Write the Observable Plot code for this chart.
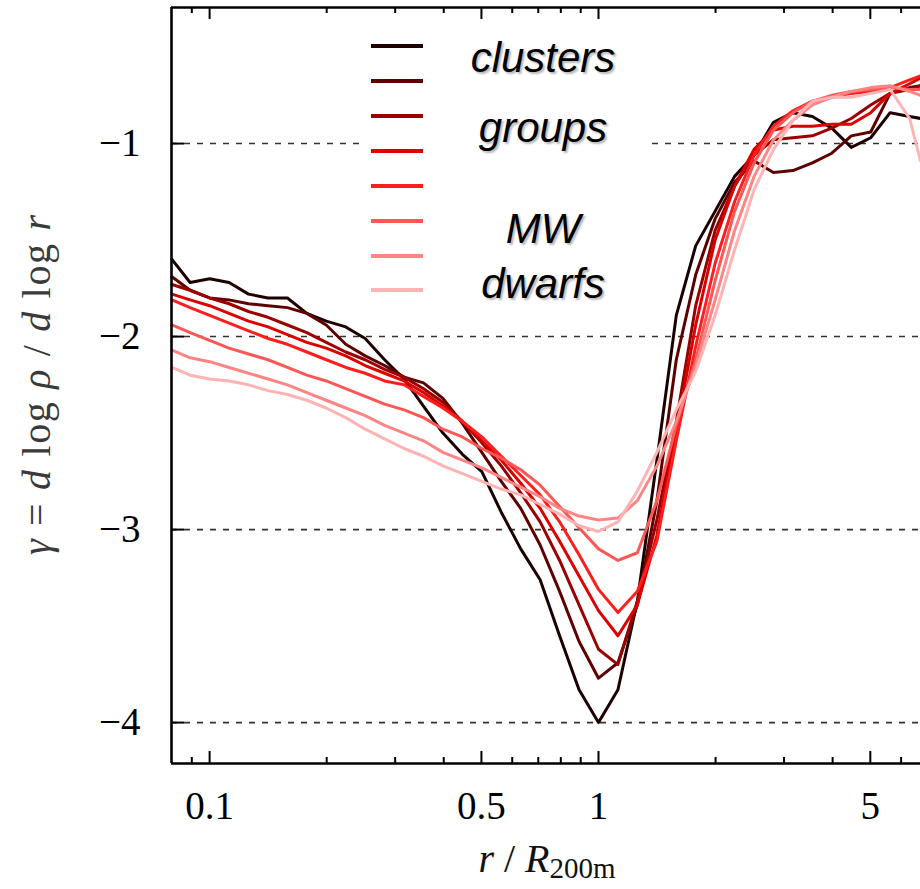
<!DOCTYPE html>
<html><head><meta charset="utf-8">
<script src="https://cdn.jsdelivr.net/npm/d3@7"></script>
<script src="https://cdn.jsdelivr.net/npm/@observablehq/plot@0.6"></script>
<style>
body{margin:0;background:#fff;}
#wrap{position:relative;width:920px;height:889px;overflow:hidden;background:#fff;}
.lgbox{position:absolute;left:364px;top:20px;width:284px;height:292px;background:#fff;}
.lgline{position:absolute;left:371px;width:52px;height:4px;}
.lgtext{position:absolute;left:543px;font-family:"Liberation Sans",Arial,sans-serif;font-style:italic;font-size:42px;line-height:42px;color:#000;text-shadow:2px 2px 2px rgba(0,0,0,0.28);transform:translateX(-50%);white-space:nowrap;}
</style></head><body><div id="wrap"></div>
<script>
// radius r / R200m
const r = [0.08, 0.0891, 0.1, 0.1122, 0.1259, 0.1413, 0.1585, 0.1778, 0.1995, 0.2239, 0.2512, 0.2818, 0.3162, 0.3548, 0.3981, 0.4467, 0.5012, 0.5623, 0.631, 0.7079, 0.7943, 0.8913, 1.0, 1.122, 1.259, 1.413, 1.585, 1.778, 1.995, 2.239, 2.512, 2.818, 3.162, 3.548, 3.981, 4.467, 5.012, 5.623, 6.31, 6.73];
// logarithmic slope gamma, one array per mass bin (heaviest first)
const s1 = [-1.60,-1.72,-1.70,-1.72,-1.78,-1.80,-1.80,-1.88,-1.92,-1.95,-2.01,-2.12,-2.22,-2.36,-2.50,-2.61,-2.70,-2.91,-3.10,-3.26,-3.55,-3.83,-4.00,-3.83,-3.37,-2.64,-1.89,-1.53,-1.35,-1.17,-1.06,-0.89,-0.84,-0.86,-0.92,-1.02,-0.97,-0.84,-0.86,-0.87];
const s2 = [-1.69,-1.76,-1.80,-1.81,-1.83,-1.84,-1.85,-1.88,-1.94,-2.04,-2.10,-2.15,-2.21,-2.24,-2.32,-2.45,-2.60,-2.75,-2.89,-3.08,-3.32,-3.58,-3.77,-3.69,-3.39,-2.85,-2.12,-1.68,-1.39,-1.20,-1.09,-1.15,-1.14,-1.10,-1.05,-0.96,-0.94,-0.74,-0.71,-0.70];
const s3 = [-1.73,-1.76,-1.80,-1.83,-1.87,-1.90,-1.94,-1.98,-2.03,-2.08,-2.12,-2.17,-2.21,-2.27,-2.34,-2.44,-2.55,-2.67,-2.81,-2.96,-3.16,-3.39,-3.62,-3.70,-3.37,-2.95,-2.44,-1.84,-1.45,-1.22,-1.06,-0.98,-0.97,-0.96,-0.92,-0.87,-0.80,-0.74,-0.72,-0.70];
const s4 = [-1.78,-1.81,-1.84,-1.88,-1.92,-1.95,-1.99,-2.03,-2.06,-2.10,-2.15,-2.19,-2.23,-2.29,-2.36,-2.44,-2.54,-2.64,-2.76,-2.89,-3.06,-3.24,-3.42,-3.55,-3.39,-3.03,-2.49,-1.94,-1.50,-1.22,-1.03,-0.93,-0.91,-0.91,-0.90,-0.90,-0.84,-0.74,-0.69,-0.66];
const s5 = [-1.81,-1.85,-1.89,-1.93,-1.97,-2.01,-2.04,-2.08,-2.12,-2.16,-2.19,-2.23,-2.25,-2.31,-2.37,-2.44,-2.52,-2.62,-2.72,-2.82,-2.96,-3.13,-3.31,-3.43,-3.32,-3.06,-2.54,-2.05,-1.62,-1.30,-1.06,-0.91,-0.83,-0.78,-0.76,-0.74,-0.73,-0.71,-0.67,-0.65];
const s6 = [-1.94,-1.98,-2.02,-2.06,-2.09,-2.12,-2.16,-2.20,-2.23,-2.27,-2.31,-2.35,-2.38,-2.42,-2.48,-2.52,-2.58,-2.63,-2.69,-2.77,-2.88,-2.99,-3.10,-3.16,-3.12,-2.85,-2.46,-2.12,-1.71,-1.35,-1.10,-0.93,-0.84,-0.78,-0.75,-0.73,-0.72,-0.71,-0.72,-0.72];
const s7 = [-2.07,-2.11,-2.13,-2.16,-2.19,-2.22,-2.25,-2.29,-2.33,-2.37,-2.41,-2.46,-2.50,-2.54,-2.60,-2.64,-2.68,-2.73,-2.78,-2.83,-2.89,-2.93,-2.95,-2.94,-2.85,-2.67,-2.44,-2.15,-1.81,-1.45,-1.17,-0.98,-0.88,-0.80,-0.76,-0.73,-0.71,-0.70,-0.73,-0.75];
const s8 = [-2.16,-2.20,-2.22,-2.23,-2.25,-2.28,-2.30,-2.33,-2.37,-2.42,-2.48,-2.53,-2.58,-2.62,-2.67,-2.71,-2.75,-2.79,-2.82,-2.87,-2.92,-2.98,-3.01,-2.96,-2.80,-2.60,-2.38,-2.18,-1.89,-1.55,-1.24,-1.03,-0.88,-0.78,-0.76,-0.76,-0.74,-0.72,-0.87,-1.09];
const seriesNames = ["bin1","bin2","bin3","bin4","bin5","bin6","bin7","bin8"];
const seriesColors = ["#1c0000","#5e0000","#9a0000","#dc0000","#ff1e1e","#ff5656","#ff8585","#ffb3b3"];
const legendLabels = ["clusters","groups","MW","dwarfs"];
const xMajor = [0.1, 0.5, 1, 5];
const xMinor = [0.09, 0.2, 0.3, 0.4, 0.6, 0.7, 0.8, 0.9, 2, 3, 4, 6];
const yMajor = [-1, -2, -3, -4];
const xDomain = [0.0798, 6.73];
const yDomain = [-4.212, -0.295];

const allSeries = [s1,s2,s3,s4,s5,s6,s7,s8];
const table = [];
allSeries.forEach((vals, i) => vals.forEach((g, j) => { if (g != null) table.push({r: r[j], g, s: seriesNames[i]}); }));

const W = 920, H = 889, mL = 171, mR = 0, mT = 7, mB = 126;
const frameH = H - mT - mB, frameW = W - mL - mR;
const serif = "'Liberation Serif', 'Times New Roman', serif";
const chart = Plot.plot({
  width: W, height: H,
  marginLeft: mL, marginRight: mR, marginTop: mT, marginBottom: mB,
  style: {background: "#fff", fontFamily: serif, color: "#000"},
  x: {type: "log", domain: xDomain},
  y: {domain: yDomain},
  color: {domain: seriesNames, range: seriesColors},
  marks: [
    Plot.ruleY(yMajor, {stroke: "#333", strokeWidth: 1.6, strokeDasharray: "6,7"}),
    Plot.line(table, {x: "r", y: "g", z: "s", stroke: "s", strokeWidth: 3, strokeLinejoin: "round"}),
    // inward tick marks (short rules inset from the frame)
    Plot.ruleX(xMajor, {insetTop: frameH - 12, strokeWidth: 2}),
    Plot.ruleX(xMinor, {insetTop: frameH - 6, strokeWidth: 2}),
    Plot.ruleX(xMajor, {insetBottom: frameH - 12, strokeWidth: 2}),
    Plot.ruleX(xMinor, {insetBottom: frameH - 6, strokeWidth: 2}),
    Plot.ruleY(yMajor, {insetRight: frameW - 13, strokeWidth: 2}),
    Plot.axisX({ticks: xMajor, anchor: "bottom", tickSize: 0, tickPadding: 28, fontSize: 39, tickFormat: d => String(d), label: null}),
    Plot.axisY({ticks: yMajor, anchor: "left", tickSize: 0, tickPadding: 31, fontSize: 39, tickFormat: d => "\u2212" + Math.abs(d), label: null}),
    Plot.ruleX([xDomain[0]], {strokeWidth: 2.6}),
    Plot.ruleY(yDomain, {strokeWidth: 2.6})
  ]
});
document.getElementById("wrap").appendChild(chart);

const svg = d3.select(chart);
// y-axis title
const yt = svg.append("text")
  .attr("transform", "translate(50,385) rotate(-90)")
  .attr("text-anchor", "middle")
  .attr("textLength", 340).attr("lengthAdjust", "spacing")
  .attr("font-family", serif).attr("font-size", 40).attr("fill", "#3a3a3a");
[["\u03B3", true], [" = ", false], ["d", true], [" log ", false], ["\u03C1", true], [" / ", false], ["d", true], [" log ", false], ["r", true]]
  .forEach(([t, it]) => yt.append("tspan").attr("font-style", it ? "italic" : "normal").text(t));
// x-axis title
const xt = svg.append("text")
  .attr("x", 547).attr("y", 872)
  .attr("text-anchor", "middle")
  .attr("font-family", serif).attr("font-size", 40).attr("fill", "#111");
xt.append("tspan").attr("font-style", "italic").text("r");
xt.append("tspan").text(" / ");
xt.append("tspan").attr("font-style", "italic").text("R");
xt.append("tspan").attr("font-size", 29).attr("dy", 6).text("200m");

// legend
const wrap = document.getElementById("wrap");
const box = document.createElement("div"); box.className = "lgbox"; wrap.appendChild(box);
const lineY = [46, 81, 116, 151, 186, 221, 256, 290];
seriesColors.forEach((c, i) => {
  const d = document.createElement("div"); d.className = "lgline";
  d.style.top = (lineY[i] - 2) + "px"; d.style.background = c; wrap.appendChild(d);
});
const textBase = [72, 142, 243, 298];
legendLabels.forEach((t, i) => {
  const d = document.createElement("div"); d.className = "lgtext";
  d.style.top = (textBase[i] - 35) + "px"; d.textContent = t; wrap.appendChild(d);
});
</script></body></html>
